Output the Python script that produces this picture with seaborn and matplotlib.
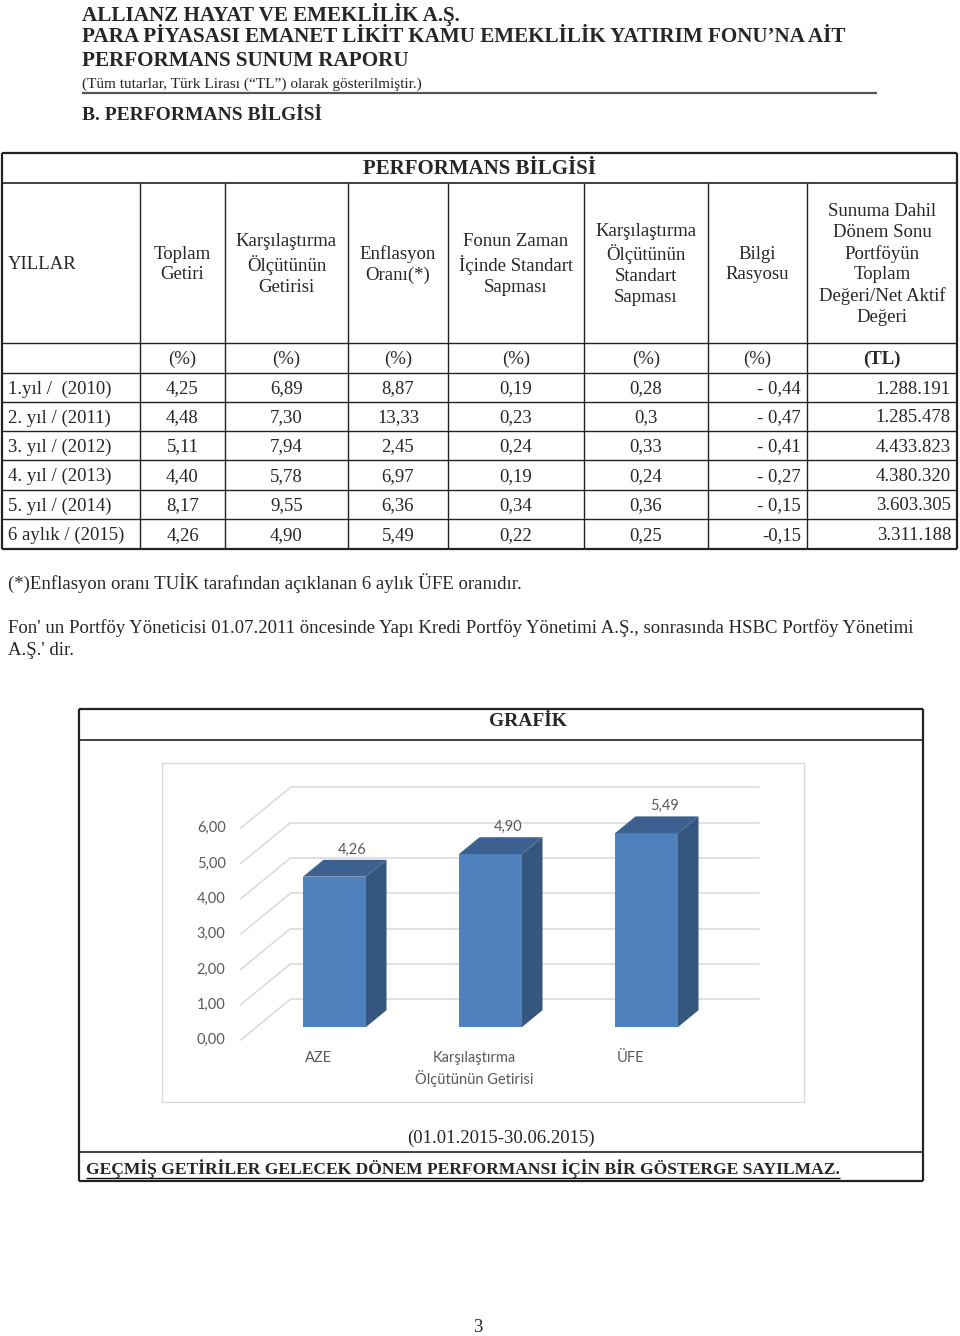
import pandas as pd
import seaborn as sns
import matplotlib.pyplot as plt
from matplotlib.patches import Polygon

# ---- report texts ----
header_lines = ['ALLIANZ HAYAT VE EMEKLİLİK A.Ş.',
                'PARA PİYASASI EMANET LİKİT KAMU EMEKLİLİK YATIRIM FONU’NA AİT',
                'PERFORMANS SUNUM RAPORU']
header_note = '(Tüm tutarlar, Türk Lirası (“TL”) olarak gösterilmiştir.)'
section_title = 'B. PERFORMANS BİLGİSİ'
table_title = 'PERFORMANS BİLGİSİ'

# ---- table ----
column_titles = ['YILLAR', 'Toplam\nGetiri', 'Karşılaştırma\nÖlçütünün\nGetirisi',
                 'Enflasyon\nOranı(*)', 'Fonun Zaman\nİçinde Standart\nSapması',
                 'Karşılaştırma\nÖlçütünün\nStandart\nSapması', 'Bilgi\nRasyosu',
                 'Sunuma Dahil\nDönem Sonu\nPortföyün\nToplam\nDeğeri/Net Aktif\nDeğeri']
column_units = ['', '(%)', '(%)', '(%)', '(%)', '(%)', '(%)', '(TL)']
years = ['1.yıl /  (2010)', '2. yıl / (2011)', '3. yıl / (2012)', '4. yıl / (2013)',
         '5. yıl / (2014)', '6 aylık / (2015)']
toplam_getiri = ['4,25', '4,48', '5,11', '4,40', '8,17', '4,26']
karsilastirma_getirisi = ['6,89', '7,30', '7,94', '5,78', '9,55', '4,90']
enflasyon = ['8,87', '13,33', '2,45', '6,97', '6,36', '5,49']
fon_std_sapma = ['0,19', '0,23', '0,24', '0,19', '0,34', '0,22']
karsilastirma_std_sapma = ['0,28', '0,3', '0,33', '0,24', '0,36', '0,25']
bilgi_rasyosu = ['- 0,44', '- 0,47', '- 0,41', '- 0,27', '- 0,15', '-0,15']
net_aktif_degeri = ['1.288.191', '1.285.478', '4.433.823', '4.380.320', '3.603.305', '3.311.188']

footnote_1 = '(*)Enflasyon oranı TUİK tarafından açıklanan 6 aylık ÜFE oranıdır.'
footnote_2 = ("Fon' un Portföy Yöneticisi 01.07.2011 öncesinde Yapı Kredi Portföy Yönetimi A.Ş., "
              "sonrasında HSBC Portföy Yönetimi\nA.Ş.' dir.")

# ---- chart ----
chart_title = 'GRAFİK'
chart_categories = ['AZE', 'Karşılaştırma\nÖlçütünün Getirisi', 'ÜFE']
chart_values = [4.26, 4.90, 5.49]
chart_ticks = [0, 1, 2, 3, 4, 5, 6]
chart_period = '(01.01.2015-30.06.2015)'
disclaimer = 'GEÇMİŞ GETİRİLER GELECEK DÖNEM PERFORMANSI İÇİN BİR GÖSTERGE SAYILMAZ.'
page_number = '3'

W, H = 960, 1336
SERIF = ['Liberation Serif', 'DejaVu Serif']
SANS = ['Lato', 'DejaVu Sans']
FRONT = '#4f81bd'
SIDE = '#34567f'
TOP = '#3c6190'
GRID = '#d9d9d9'
LABEL = '#595959'

sns.set_style('white')
plt.rcParams['font.family'] = SERIF

fig = plt.figure(figsize=(W / 100, H / 100), dpi=100)
page = fig.add_axes([0, 0, 1, 1])
page.set_xlim(0, W)
page.set_ylim(H, 0)
page.axis('off')


def hline(x0, x1, y, lw=1.0, color='#222222'):
    page.plot([x0, x1], [y, y], color=color, lw=lw, solid_capstyle='butt')


def vline(x, y0, y1, lw=1.0, color='#222222'):
    page.plot([x, x], [y0, y1], color=color, lw=lw, solid_capstyle='butt')


# header
for i, line in enumerate(header_lines):
    page.text(82, 14 + 23.5 * i, line, fontsize=15.2, fontweight='bold', va='center')
page.text(82, 84, header_note, fontsize=11, va='center')
hline(82, 877, 93, lw=1.6, color='#555555')
page.text(82, 116, section_title, fontsize=14, fontweight='bold', va='center')

# table frame
col_edges = [2, 140, 225, 348, 448, 584, 708, 807, 957]
row_edges = [343, 373, 402, 431, 460, 490, 519, 549]
top, title_bottom = 153, 183
hline(col_edges[0], col_edges[-1], top, lw=1.6)
hline(col_edges[0], col_edges[-1], title_bottom, lw=1.2)
for y in row_edges[:-1]:
    hline(col_edges[0], col_edges[-1], y, lw=1.0)
hline(col_edges[0], col_edges[-1], row_edges[-1], lw=1.6)
vline(col_edges[0], top, row_edges[-1], lw=1.6)
vline(col_edges[-1], top, row_edges[-1], lw=1.6)
for x in col_edges[1:-1]:
    vline(x, title_bottom, row_edges[-1], lw=1.0)

page.text((col_edges[0] + col_edges[-1]) / 2, 169, table_title,
          fontsize=15, fontweight='bold', ha='center', va='center')

fs = 13.5
nudge = 1.5
centers = [(a + b) / 2 for a, b in zip(col_edges[:-1], col_edges[1:])]
header_mid = (title_bottom + row_edges[0]) / 2 + nudge
for j, title in enumerate(column_titles):
    if j == 0:
        page.text(8, header_mid, title, fontsize=fs, va='center')
    else:
        page.text(centers[j], header_mid, title, fontsize=fs, ha='center',
                  va='center', multialignment='center', linespacing=1.3)

unit_y = (row_edges[0] + row_edges[1]) / 2 + nudge
for j, unit in enumerate(column_units):
    if unit:
        page.text(centers[j], unit_y, unit, fontsize=fs, ha='center', va='center',
                  fontweight='bold' if unit == '(TL)' else 'normal')

columns = [years, toplam_getiri, karsilastirma_getirisi, enflasyon, fon_std_sapma,
           karsilastirma_std_sapma, bilgi_rasyosu, net_aktif_degeri]
for i in range(len(years)):
    y = (row_edges[i + 1] + row_edges[i + 2]) / 2 + nudge
    for j, col in enumerate(columns):
        if j == 0:
            page.text(8, y, col[i], fontsize=fs, va='center')
        elif j >= 6:
            page.text(col_edges[j + 1] - 6, y, col[i], fontsize=fs, ha='right', va='center')
        else:
            page.text(centers[j], y, col[i], fontsize=fs, ha='center', va='center')

page.text(8, 583, footnote_1, fontsize=fs, va='center')
page.text(8, 619, footnote_2, fontsize=fs, va='top', linespacing=1.38)

# chart box
bx0, bx1 = 79, 923
by0, by1, by2, by3 = 709, 740, 1152, 1181
hline(bx0, bx1, by0, lw=1.6)
hline(bx0, bx1, by1, lw=1.2)
hline(bx0, bx1, by2, lw=1.2)
hline(bx0, bx1, by3, lw=1.6)
vline(bx0, by0, by3, lw=1.6)
vline(bx1, by0, by3, lw=1.6)
page.text(528, 722, chart_title, fontsize=14, fontweight='bold', ha='center', va='center')
page.text(501, 1138, chart_period, fontsize=fs, ha='center', va='center')
disc = page.text(86, 1169, disclaimer, fontsize=12.6, fontweight='bold', va='center')
fig.canvas.draw()
bb = disc.get_window_extent(fig.canvas.get_renderer())
hline(86, 86 + bb.width, 1178, lw=1.0, color='#111111')
page.text(478, 1327, page_number, fontsize=fs, ha='center', va='center')

# ---- 3D-looking bar chart ----
fl, ft, fr, fb = 162, 763, 804, 1102          # chart frame in page pixels
x_px, x0_px = 156.0, 334.5                     # pixels per category, first category
y_px, y0_px = 35.3, 1027.0                     # pixels per unit, bar baseline
ax = fig.add_axes([fl / W, 1 - fb / H, (fr - fl) / W, (fb - ft) / H])
ax.set_facecolor('none')

chart_df = pd.DataFrame({'kategori': chart_categories, 'deger': chart_values})
sns.barplot(data=chart_df, x='kategori', y='deger', ax=ax, color=FRONT, saturation=1,
            width=0.404, errorbar=None, linewidth=0, zorder=4)

ax.set_xlim((fl - x0_px) / x_px, (fr - x0_px) / x_px)
ax.set_ylim((y0_px - fb) / y_px, (y0_px - ft) / y_px)
ax.set_xticks([])
ax.set_yticks([])
ax.set_xlabel('')
ax.set_ylabel('')
for s in ax.spines.values():
    s.set_color(GRID)
    s.set_linewidth(0.9)

# depth vector (label plane -> back wall), in pixels and data units
dpx, dpy = 50.0, 41.0
dx, dy = dpx / x_px, dpy / y_px
f_front, f_bar = 0.32, 0.41
wall_l, wall_r = -0.5, len(chart_categories) - 0.5
back = 1 - f_front
for v in chart_ticks:
    ax.plot([wall_l + back * dx, wall_r + back * dx], [v + back * dy] * 2,
            color=GRID, lw=1.1, zorder=1)
    ax.plot([wall_l - f_front * dx, wall_l + back * dx],
            [v - f_front * dy, v + back * dy], color=GRID, lw=1.1, zorder=1)
    ax.annotate(f'{v:.2f}'.replace('.', ','), (wall_l, v),
                xytext=(-f_front * dpx - 15, -f_front * dpy), textcoords='offset pixels',
                ha='right', va='center', fontsize=10.5, color=LABEL, family=SANS)

bdx, bdy = f_bar * dx, f_bar * dy
for p, val in zip(ax.patches, chart_values):
    x1 = p.get_x()
    x2 = x1 + p.get_width()
    h = p.get_height()
    ax.add_patch(Polygon([(x2, 0), (x2, h), (x2 + bdx, h + bdy), (x2 + bdx, bdy)],
                         closed=True, facecolor=SIDE, edgecolor='none', zorder=3))
    ax.add_patch(Polygon([(x1, h), (x2, h), (x2 + bdx, h + bdy), (x1 + bdx, h + bdy)],
                         closed=True, facecolor=TOP, edgecolor='none', zorder=5))
    ax.annotate(f'{val:.2f}'.replace('.', ','), (x1 + p.get_width() / 2, h),
                xytext=(18, 27), textcoords='offset pixels', ha='center', va='center',
                fontsize=10.5, color=LABEL, family=SANS)

for i, cat in enumerate(chart_categories):
    ax.annotate(cat, (i, 0), xytext=(-16, -24), textcoords='offset pixels',
                ha='center', va='top', multialignment='center', linespacing=1.35,
                fontsize=10.5, color=LABEL, family=SANS)

fig.savefig('out.png', dpi=100)
